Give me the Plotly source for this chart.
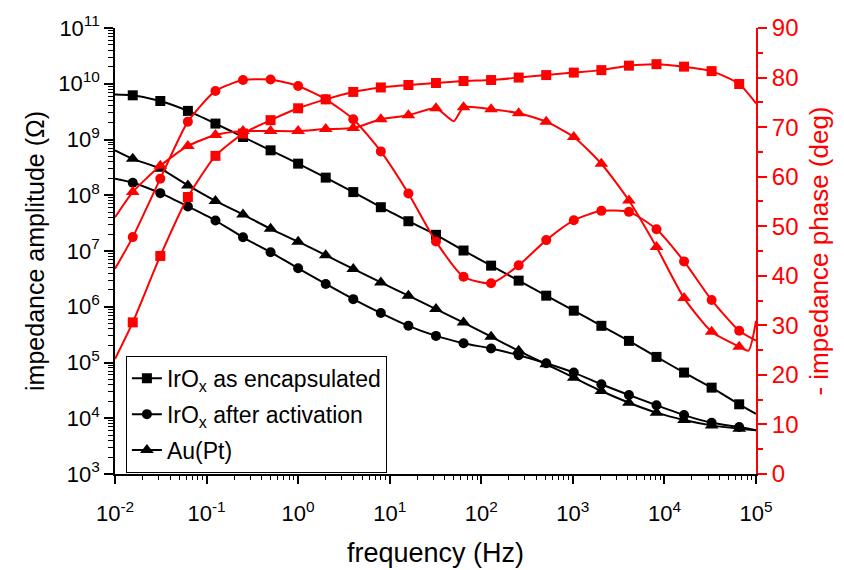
import plotly.graph_objects as go

# Measurement frequencies (Hz) at which markers are plotted
freq = [0.015625, 0.03125, 0.0625, 0.125, 0.25, 0.5, 1, 2, 4, 8, 16, 32, 64,
        128, 256, 512, 1024, 2048, 4096, 8192, 16384, 32768, 65536]
# Sweep end points (lines run to the edges of the frequency range)
f_ends = [0.01, 100000]

# Impedance amplitude (Ohm)
amp_encaps = [6.2e9, 4.9e9, 3.26e9, 1.93e9, 1.11e9, 6.4e8, 3.69e8, 2.07e8, 1.14e8,
              6.1e7, 3.42e7, 1.95e7, 1.02e7, 5.46e6, 2.94e6, 1.58e6, 8.5e5, 4.55e5,
              2.44e5, 1.26e5, 6.6e4, 3.54e4, 1.78e4]
amp_encaps_ends = [6.4e9, 1.2e4]

amp_activ = [1.68e8, 1.09e8, 6.3e7, 3.52e7, 1.76e7, 9.5e6, 4.89e6, 2.56e6, 1.37e6,
             7.7e5, 4.55e5, 3.0e5, 2.22e5, 1.78e5, 1.35e5, 9.7e4, 6.6e4, 4.07e4,
             2.61e4, 1.71e4, 1.14e4, 8.3e3, 6.95e3]
amp_activ_ends = [1.98e8, 6.1e3]

amp_au = [4.5e8, 3.0e8, 1.5e8, 7.9e7, 4.5e7, 2.5e7, 1.47e7, 8.4e6, 4.76e6, 2.73e6,
          1.58e6, 9.1e5, 5.2e5, 2.9e5, 1.62e5, 9.3e4, 5.35e4, 3.08e4, 1.9e4,
          1.26e4, 9.3e3, 7.45e3, 6.5e3]
amp_au_ends = [6.4e8, 6.1e3]

# Negative impedance phase (deg)
ph_encaps = [30.6, 44.0, 55.9, 64.2, 68.7, 71.4, 73.8, 75.6, 77.1, 78.0, 78.5, 78.9,
             79.3, 79.5, 80.0, 80.5, 81.0, 81.5, 82.4, 82.7, 82.2, 81.3, 78.7]
ph_encaps_ends = [23.2, 74.8]

ph_activ = [47.8, 59.6, 71.1, 77.3, 79.5, 79.6, 78.3, 75.6, 71.6, 65.1, 56.6, 46.9,
            39.8, 38.5, 42.1, 47.2, 51.2, 53.1, 52.9, 49.4, 42.9, 35.1, 28.9]
ph_activ_ends = [41.4, 26.9]

ph_au = [56.9, 62.2, 66.2, 68.4, 69.2, 69.2, 69.2, 69.6, 69.8, 71.6, 72.4, 73.8,
         74.0, 73.6, 72.8, 71.1, 68.0, 62.6, 55.2, 45.8, 35.5, 28.7, 25.7]
ph_au_ends = [51.8, 30.9]
# Extra unmarked readings on the Au(Pt) phase sweep (50 Hz pickup, top of range)
ph_au_extra_f = [50, 82800]
ph_au_extra = [71.2, 24.9]

labels = ["IrO<sub>x</sub> as encapsulated", "IrO<sub>x</sub> after activation", "Au(Pt)"]
symbols = ["square", "circle", "triangle-up"]
msizes = [10, 10, 12]

FONT = "Arial, Liberation Sans, sans-serif"
RED = "#ff0000"


def full_curve(f, y, ends, extra_f=(), extra_y=()):
    pts = list(zip(f, y)) + [(f_ends[0], ends[0]), (f_ends[1], ends[1])]
    pts += list(zip(extra_f, extra_y))
    pts.sort()
    return [p[0] for p in pts], [p[1] for p in pts]


fig = go.Figure()

amp_sets = [(amp_encaps, amp_encaps_ends), (amp_activ, amp_activ_ends), (amp_au, amp_au_ends)]
ph_sets = [(ph_encaps, ph_encaps_ends, (), ()), (ph_activ, ph_activ_ends, (), ()),
           (ph_au, ph_au_ends, ph_au_extra_f, ph_au_extra)]

# Phase curves (right axis, red)
for (vals, ends, ef, ev), sym, ms in zip(ph_sets, symbols, msizes):
    lx, ly = full_curve(freq, vals, ends, ef, ev)
    fig.add_trace(go.Scatter(x=lx, y=ly, mode="lines", yaxis="y2", showlegend=False,
                             line=dict(color=RED, width=2, shape="spline", smoothing=0.6),
                             hoverinfo="skip"))
    fig.add_trace(go.Scatter(x=freq, y=vals, mode="markers", yaxis="y2", showlegend=False,
                             marker=dict(symbol=sym, size=ms, color=RED)))

# Amplitude curves (left axis, black)
for i, ((vals, ends), sym, ms, name) in enumerate(zip(amp_sets, symbols, msizes, labels)):
    lx, ly = full_curve(freq, vals, ends)
    fig.add_trace(go.Scatter(x=lx, y=ly, mode="lines", showlegend=False,
                             line=dict(color="black", width=2, shape="spline", smoothing=0.6),
                             hoverinfo="skip"))
    fig.add_trace(go.Scatter(x=freq, y=vals, mode="markers", showlegend=False,
                             marker=dict(symbol=sym, size=ms, color="black")))
    # legend entry
    fig.add_trace(go.Scatter(x=[None], y=[None], mode="lines+markers", name=name,
                             legendgroup="g%d" % i,
                             line=dict(color="black", width=2),
                             marker=dict(symbol=sym, size=ms, color="black")))

x_ticks = [0.01, 0.1, 1, 10, 100, 1000, 10000, 100000]
x_text = ["10<sup>-2</sup>", "10<sup>-1</sup>", "10<sup>0</sup>", "10<sup>1</sup>",
          "10<sup>2</sup>", "10<sup>3</sup>", "10<sup>4</sup>", "10<sup>5</sup>"]
y_ticks = [1e3, 1e4, 1e5, 1e6, 1e7, 1e8, 1e9, 1e10, 1e11]
y_text = ["10<sup>%d</sup>" % e for e in range(3, 12)]

fig.update_layout(
    width=844, height=570,
    margin=dict(l=115, r=88, t=28, b=96, autoexpand=False),
    paper_bgcolor="white", plot_bgcolor="white",
    font=dict(family=FONT, size=21, color="black"),
    showlegend=True,
    legend=dict(x=0.017, y=0.265, xanchor="left", yanchor="top",
                bgcolor="white", bordercolor="black", borderwidth=1,
                font=dict(family=FONT, size=23, color="black"),
                entrywidth=320, entrywidthmode="pixels",
                tracegroupgap=3),
    xaxis=dict(type="log", range=[-2, 5], tickvals=x_ticks, ticktext=x_text,
               showline=True, linecolor="black", linewidth=1.5,
               ticks="outside", ticklen=8, tickwidth=1.5, tickcolor="black",
               minor=dict(ticks="outside", ticklen=4, tickwidth=1, tickcolor="black",
                          dtick="D1"),
               showgrid=False, zeroline=False, ticklabelstandoff=11,
               tickfont=dict(family=FONT, size=22, color="black"),
               title=dict(text="frequency (Hz)", font=dict(family=FONT, size=27),
                          standoff=18)),
    yaxis=dict(type="log", range=[3, 11], tickvals=y_ticks, ticktext=y_text,
               showline=True, linecolor="black", linewidth=1.5,
               ticks="outside", ticklen=9, tickwidth=1.5, tickcolor="black",
               minor=dict(ticks="outside", ticklen=5, tickwidth=1, tickcolor="black",
                          dtick="D1"),
               showgrid=False, zeroline=False,
               tickfont=dict(family=FONT, size=22, color="black"),
               title=dict(text="impedance amplitude (\u03a9)", font=dict(family=FONT, size=25),
                          standoff=6)),
    yaxis2=dict(overlaying="y", side="right", range=[0, 90], dtick=10,
                showline=True, linecolor=RED, linewidth=2,
                ticks="outside", ticklen=9, tickwidth=1.5, tickcolor=RED,
                minor=dict(ticks="outside", ticklen=5, tickwidth=1.5, tickcolor=RED, dtick=5),
                showgrid=False, zeroline=False,
                tickfont=dict(family=FONT, size=24, color=RED),
                title=dict(text="- impedance phase (deg)",
                           font=dict(family=FONT, size=26, color=RED), standoff=12)),
)

fig.write_html("out.html")
